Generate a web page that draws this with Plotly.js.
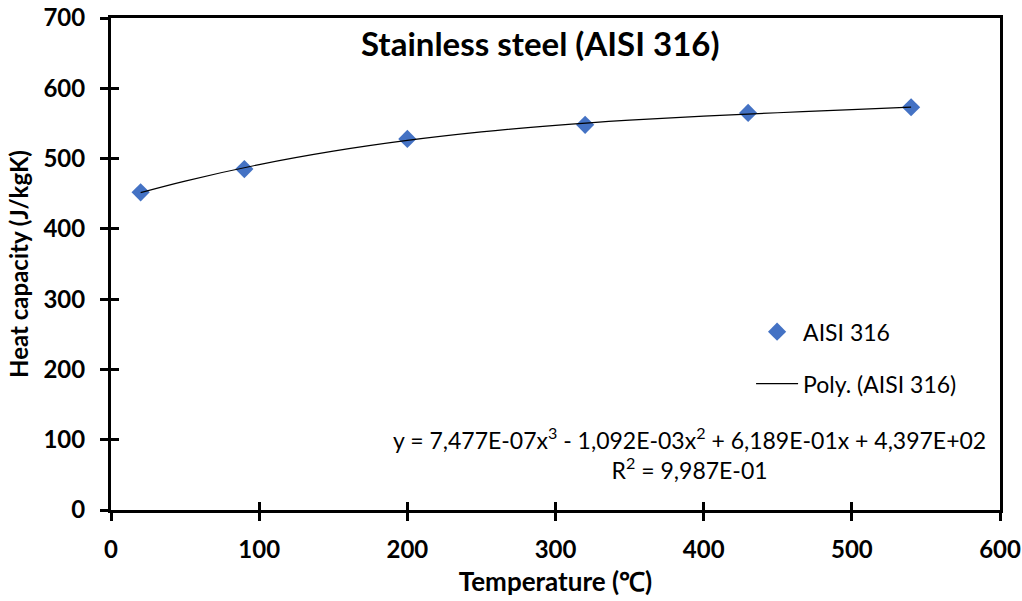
<!DOCTYPE html>
<html>
<head>
<meta charset="utf-8">
<script src="https://cdn.plot.ly/plotly-3.0.1.min.js"></script>
<style>html,body{margin:0;padding:0;background:#fff;}#chart{width:1022px;height:601px;}</style>
</head>
<body>
<div id="chart"></div>
<script>
// Measured data points
var temperature = [20, 90, 200, 320, 430, 540];
var heatCapacity = [452, 485, 528, 548, 565, 573];

// Trendline (Poly. order 3) points
var trendX = [20, 50, 100, 150, 200, 250, 300, 350, 400, 450, 500, 540];
var trendY = [451.6, 468.0, 491.4, 510.5, 525.8, 537.9, 547.3, 554.6, 560.4, 565.2, 569.6, 573.2];

var xTicks = [0, 100, 200, 300, 400, 500, 600];
var yTicks = [0, 100, 200, 300, 400, 500, 600, 700];

var chartTitle = 'Stainless steel (AISI 316)';
var seriesName = 'AISI 316';
var trendName = 'Poly. (AISI 316)';
var equationText = 'y = 7,477E-07x<sup>3</sup> - 1,092E-03x<sup>2</sup> + 6,189E-01x + 4,397E+02<br>R<sup>2</sup> = 9,987E-01';
var xTitle = 'Temperature (\u2103)';
var yTitle = 'Heat capacity (J/kgK)';

var FONT = 'Lato, "Open Sans", sans-serif';

var traces = [
  {
    x: temperature, y: heatCapacity, name: seriesName, type: 'scatter', mode: 'markers',
    marker: {symbol: 'diamond', size: 14, color: '#4472C4'},
    legendgroup: 'a'
  },
  {
    x: trendX, y: trendY, name: trendName, type: 'scatter', mode: 'lines',
    line: {color: '#000000', width: 1.2, shape: 'spline'},
    legendgroup: 'b'
  }
];

var axisCommon = {
  showgrid: false, zeroline: false,
  showline: true, linecolor: '#000', linewidth: 3,
  ticks: 'outside', ticklen: 8, tickwidth: 3, tickcolor: '#000',
  tickfont: {family: FONT, size: 24, color: '#000', weight: 'bold'}
};

var layout = {
  width: 1022, height: 601,
  margin: {l: 111, r: 22, t: 18, b: 91},
  paper_bgcolor: '#fff', plot_bgcolor: '#fff',
  showlegend: true,
  legend: {
    x: 0.72, y: 0.406, xanchor: 'left', yanchor: 'top',
    bgcolor: 'rgba(0,0,0,0)',
    font: {family: FONT, size: 23, color: '#000'},
    traceorder: 'grouped', tracegroupgap: 19, itemwidth: 42
  },
  xaxis: Object.assign({}, axisCommon, {
    range: [0, 600], tickvals: xTicks, ticktext: xTicks.map(String),
    mirror: true, ticklabelstandoff: 8,
    title: {text: xTitle, font: {family: FONT, size: 26, color: '#000', weight: 'bold'}, standoff: 12}
  }),
  yaxis: Object.assign({}, axisCommon, {
    range: [0, 700], tickvals: yTicks, ticktext: yTicks.map(String),
    mirror: true, ticklabelstandoff: 10,
    title: {text: yTitle, font: {family: FONT, size: 24, color: '#000', weight: 'bold'}, standoff: 9}
  }),
  xaxis2: {
    overlaying: 'x', range: [0, 600], tickvals: xTicks, showticklabels: false,
    ticks: 'inside', ticklen: 8, tickwidth: 3, tickcolor: '#000',
    showgrid: false, zeroline: false, showline: false, anchor: 'y'
  },
  yaxis2: {
    overlaying: 'y', range: [0, 700], tickvals: yTicks, showticklabels: false,
    ticks: 'inside', ticklen: 8, tickwidth: 3, tickcolor: '#000',
    showgrid: false, zeroline: false, showline: false, anchor: 'x', side: 'left'
  },
  annotations: [
    {
      text: '<b>' + chartTitle + '</b>', xref: 'paper', yref: 'paper',
      x: 0.4826, y: 0.95, xanchor: 'center', yanchor: 'middle', showarrow: false,
      font: {family: FONT, size: 33, color: '#000'}
    },
    {
      text: equationText, xref: 'paper', yref: 'paper',
      x: 0.651, y: 0.114, xanchor: 'center', yanchor: 'middle', showarrow: false, align: 'center',
      font: {family: FONT, size: 23, color: '#000'}
    }
  ]
};

// invisible helper trace to activate the crossing-tick overlay axes
traces.push({x: [null], y: [null], xaxis: 'x2', yaxis: 'y2', showlegend: false, hoverinfo: 'skip', type: 'scatter', mode: 'markers'});

Plotly.newPlot('chart', traces, layout, {displayModeBar: false, staticPlot: true});
</script>
</body>
</html>
